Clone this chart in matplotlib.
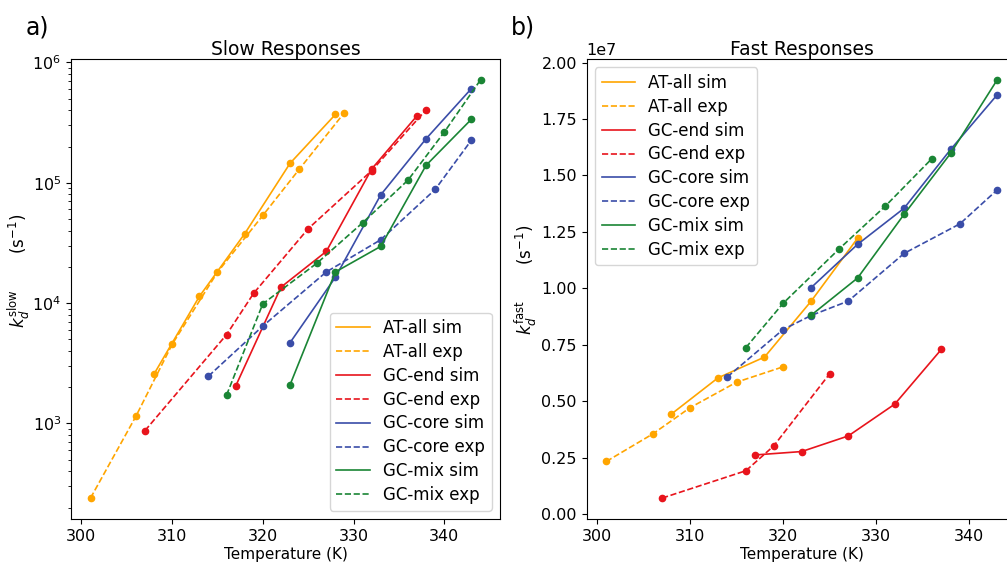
import matplotlib
matplotlib.use("Agg")
import matplotlib.pyplot as plt
from matplotlib.lines import Line2D

# ---------------- data ----------------
# Slow responses (panel a)
at_sim_T_slow = [308, 313, 318, 323, 328]
at_sim_k_slow = [2570, 11350, 37700, 145000, 369000]
at_exp_T_slow = [301, 306, 310, 315, 320, 324, 329]
at_exp_k_slow = [240, 1145, 4540, 18060, 53500, 129000, 383000]

end_sim_T_slow = [317, 322, 327, 332, 337]
end_sim_k_slow = [2040, 13560, 26900, 130000, 360000]
end_exp_T_slow = [307, 316, 319, 325, 332, 338]
end_exp_k_slow = [871, 5470, 12100, 41500, 126000, 404000]

core_sim_T_slow = [323, 328, 333, 338, 343]
core_sim_k_slow = [4690, 16400, 79300, 232000, 606000]
core_exp_T_slow = [314, 320, 327, 333, 339, 343]
core_exp_k_slow = [2470, 6450, 18150, 33600, 87900, 226000]

mix_sim_T_slow = [323, 328, 333, 338, 343]
mix_sim_k_slow = [2095, 18150, 29600, 139600, 337000]
mix_exp_T_slow = [316, 320, 326, 331, 336, 340, 344]
mix_exp_k_slow = [1720, 9870, 21570, 46500, 105000, 263000, 715000]

# Fast responses (panel b)
at_sim_T_fast = [308, 313, 318, 323, 328]
at_sim_k_fast = [0.444e7, 0.604e7, 0.696e7, 0.943e7, 1.222e7]
at_exp_T_fast = [301, 306, 310, 315, 320]
at_exp_k_fast = [0.234e7, 0.356e7, 0.472e7, 0.585e7, 0.653e7]

end_sim_T_fast = [317, 322, 327, 332, 337]
end_sim_k_fast = [0.263e7, 0.278e7, 0.347e7, 0.488e7, 0.730e7]
end_exp_T_fast = [307, 316, 319, 325]
end_exp_k_fast = [0.072e7, 0.193e7, 0.303e7, 0.622e7]

core_sim_T_fast = [323, 328, 333, 338, 343]
core_sim_k_fast = [1.003e7, 1.195e7, 1.355e7, 1.615e7, 1.857e7]
core_exp_T_fast = [314, 320, 323, 327, 333, 339, 343]
core_exp_k_fast = [0.608e7, 0.818e7, 0.880e7, 0.944e7, 1.155e7, 1.286e7, 1.436e7]

mix_sim_T_fast = [323, 328, 333, 338, 343]
mix_sim_k_fast = [0.881e7, 1.046e7, 1.328e7, 1.598e7, 1.923e7]
mix_exp_T_fast = [316, 320, 326, 331, 336]
mix_exp_k_fast = [0.738e7, 0.934e7, 1.174e7, 1.365e7, 1.575e7]

labels = ["AT-all sim", "AT-all exp", "GC-end sim", "GC-end exp",
          "GC-core sim", "GC-core exp", "GC-mix sim", "GC-mix exp"]
colors = ["#FFA500", "#FFA500", "#E8141C", "#E8141C",
          "#3A4DA8", "#3A4DA8", "#1A8535", "#1A8535"]
styles = ["-", "--", "-", "--", "-", "--", "-", "--"]

slow_series = [(at_sim_T_slow, at_sim_k_slow), (at_exp_T_slow, at_exp_k_slow),
               (end_sim_T_slow, end_sim_k_slow), (end_exp_T_slow, end_exp_k_slow),
               (core_sim_T_slow, core_sim_k_slow), (core_exp_T_slow, core_exp_k_slow),
               (mix_sim_T_slow, mix_sim_k_slow), (mix_exp_T_slow, mix_exp_k_slow)]
fast_series = [(at_sim_T_fast, at_sim_k_fast), (at_exp_T_fast, at_exp_k_fast),
               (end_sim_T_fast, end_sim_k_fast), (end_exp_T_fast, end_exp_k_fast),
               (core_sim_T_fast, core_sim_k_fast), (core_exp_T_fast, core_exp_k_fast),
               (mix_sim_T_fast, mix_sim_k_fast), (mix_exp_T_fast, mix_exp_k_fast)]

# ---------------- figure ----------------
W, H = 1007, 562
fig = plt.figure(figsize=(W / 100, H / 100), dpi=100)

ax1 = fig.add_axes([71 / W, 43 / H, 429 / W, 460 / H])
ax2 = fig.add_axes([586.7 / W, 43 / H, 430 / W, 460 / H])

TICK_FS = 11.5
LAB_FS = 11
TITLE_FS = 13.5
LEG_FS = 12

legend_handles = [Line2D([], [], color=c, ls=ls, lw=1.2)
                  for c, ls in zip(colors, styles)]

for ax, series in ((ax1, slow_series), (ax2, fast_series)):
    for (T, k), c, ls in zip(series, colors, styles):
        ax.plot(T, k, marker="o", ms=4.5, lw=1.2, ls=ls, color=c)
    ax.tick_params(labelsize=TICK_FS)
    ax.set_xlabel("Temperature (K)", fontsize=LAB_FS, labelpad=2)
    ax.set_xticks([300, 310, 320, 330, 340])

ax1.set_yscale("log")
ax1.set_title("Slow Responses", fontsize=TITLE_FS, pad=3)
ax2.set_title("Fast Responses", fontsize=TITLE_FS, pad=3)
ax2.yaxis.get_offset_text().set_fontsize(TICK_FS)

gap = " " * 7
ax1.set_ylabel(r"$k_d^{\rm slow}$" + gap + r"(s$^{-1}$)", fontsize=12)
ax2.set_ylabel(r"$k_d^{\rm fast}$" + gap + r"(s$^{-1}$)", fontsize=12)
ax1.yaxis.set_label_coords(-0.092, 0.54)
ax2.yaxis.set_label_coords(-0.112, 0.52)

ax1.legend(legend_handles, labels, loc="lower right", fontsize=LEG_FS,
           labelspacing=0.35)
ax2.legend(legend_handles, labels, loc="upper left", fontsize=LEG_FS,
           labelspacing=0.35)

fig.text(26 / W, 1 - 27 / H, "a)", fontsize=17, va="center", ha="left")
fig.text(511 / W, 1 - 27 / H, "b)", fontsize=17, va="center", ha="left")

fig.savefig("out.png", dpi=100)
